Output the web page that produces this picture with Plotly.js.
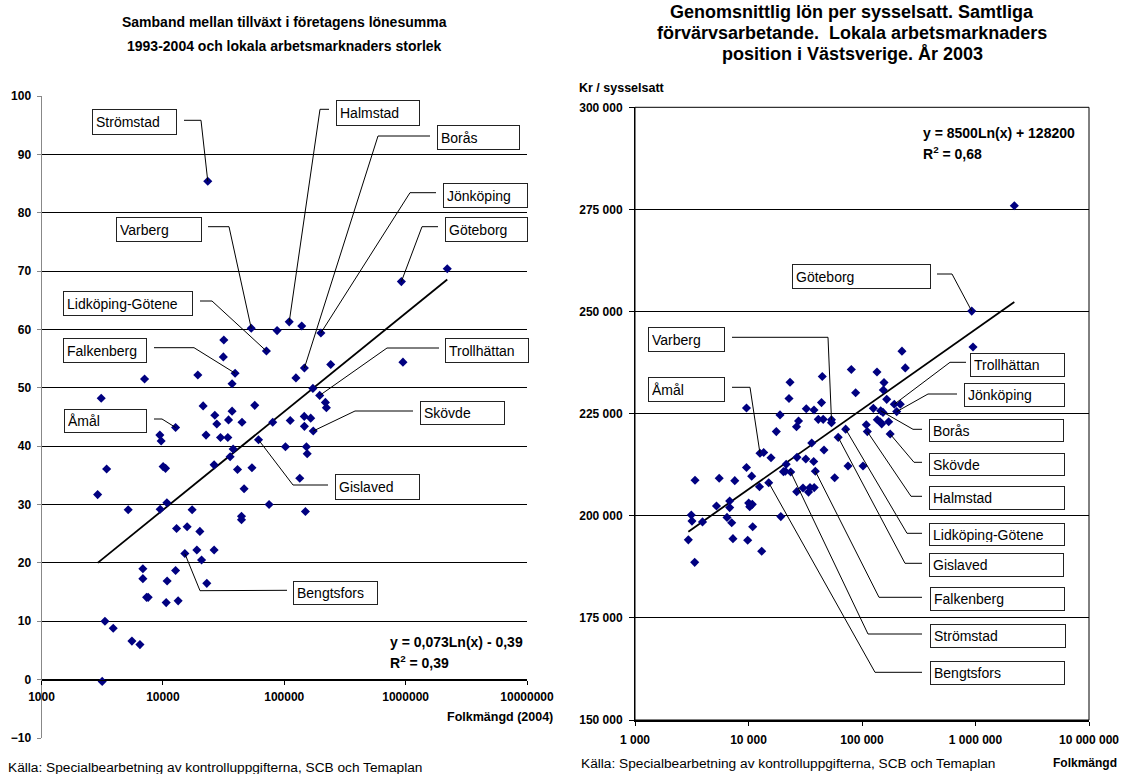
<!DOCTYPE html>
<html><head><meta charset="utf-8">
<script src="https://cdn.plot.ly/plotly-3.0.1.min.js"></script>
<style>html,body{margin:0;padding:0;background:#fff}#chart{width:1123px;height:774px}</style>
</head><body><div id="chart"></div>
<script>
const W = 1123, H = 774;

// ---------- Left chart: growth in payroll 1993-2004 vs population (2004) ----------
const leftPop = [23440, 2203000, 922500, 109900, 139300, 200400, 53460, 87300, 31770, 71300,
  31480, 241500, 950600, 146600, 39360, 19410, 7065, 124800, 37170, 172200,
  3105, 195900, 218300, 222400, 21460, 57150, 37170, 26790, 34750, 27810,
  12730, 44870, 80370, 112000, 146200, 165200, 146600, 173300, 9443, 9680,
  22680, 29850, 34280, 61370, 37930, 35810, 102300, 152300, 154600, 26430,
  41210, 54200, 134200, 10050, 10520, 3441, 46680, 2901, 5180, 9505,
  10790, 17420, 149400, 44430, 44430, 74990, 12970, 15850, 20170, 26430,
  19050, 15170, 20830, 6842, 6842, 23010, 10840, 12730, 7345, 7568,
  10650, 13360, 3333, 3899, 5559, 6471, 3162];
const leftGrowth = [85.4, 70.4, 68.2, 61.3, 60.6, 59.4, 60.2, 59.8, 58.2, 56.3,
  55.3, 54.0, 54.4, 53.4, 52.5, 52.2, 51.5, 51.7, 50.7, 49.9,
  48.2, 48.7, 47.5, 46.6, 46.9, 47.0, 46.0, 45.3, 44.5, 43.8,
  43.2, 44.1, 44.1, 44.4, 45.1, 44.8, 43.4, 42.6, 41.9, 40.9,
  41.9, 41.5, 41.5, 41.1, 39.5, 38.2, 39.9, 39.9, 38.7, 36.8,
  36.0, 36.3, 34.5, 36.5, 36.2, 36.1, 32.7, 31.7, 29.1, 29.2,
  30.3, 29.1, 28.8, 28.0, 27.4, 30.0, 25.9, 26.2, 25.4, 22.2,
  22.2, 21.6, 20.5, 19.0, 17.3, 16.5, 16.9, 18.7, 14.1, 14.1,
  13.2, 13.5, 10.0, 8.8, 6.6, 6.0, -0.3];
const leftNames = ['Strömstad', '', 'Göteborg', 'Halmstad', '', 'Jönköping', 'Varberg', '', '', 'Lidköping-Götene',
  '', '', '', 'Borås', 'Falkenberg', '', '', '', '', '',
  '', 'Trollhättan', '', '', '', '', '', '', '', '',
  'Åmål', '', '', '', '', '', '', 'Skövde', '', '',
  '', '', '', 'Gislaved', '', '', '', '', '', '',
  '', '', '', '', '', '', '', '', '', '',
  '', '', '', '', '', '', '', '', '', '',
  '', 'Bengtsfors', '', '', '', '', '', '', '', '',
  '', '', '', '', '', '', ''];

// ---------- Right chart: average wage per employed vs population ----------
const rightPop = [2198000, 926800, 950600, 225000, 240600, 80500, 135500, 156300, 154100, 87900,
  165100, 192600, 217500, 125900, 146100, 153100, 202200, 136400, 144200, 149200,
  171800, 109100, 111400, 177100, 71800, 75300, 102100, 44670, 23220, 22740,
  43970, 9600, 32300, 37760, 18950, 27590, 26480, 41210, 45510, 53830,
  53830, 17580, 61700, 36060, 12620, 13610, 15780, 26740, 31980, 46240,
  21490, 37530, 9600, 10670, 20330, 21100, 23540, 38800, 57440, 5520,
  3380, 7570, 15070, 12500, 26590, 30200, 33790, 34830, 37930, 5224,
  6826, 6826, 10040, 10460, 10800, 10250, 3133, 3177, 3934, 6468,
  7112, 19260, 10890, 7295, 9840, 2951, 13070, 3357];
const rightWage = [275900, 250100, 241300, 240300, 236200, 235800, 235200, 232600, 230800, 230100,
  228500, 227300, 227300, 226300, 225700, 225300, 225500, 223500, 223000, 222500,
  223000, 222300, 220600, 220000, 221200, 212200, 212200, 234100, 232700, 228700,
  227700, 226400, 226200, 225900, 224700, 223200, 221800, 223600, 223600, 223500,
  222800, 220600, 219200, 217800, 215300, 215500, 214200, 214300, 213900, 216100,
  212600, 213300, 211800, 209700, 210800, 210900, 210700, 210900, 209300, 209200,
  208700, 208600, 208100, 207100, 205900, 206800, 205800, 206900, 206900, 202400,
  203600, 202000, 203100, 202600, 202800, 202200, 200200, 198700, 198500, 199600,
  198300, 199800, 197300, 194400, 194000, 194100, 191300, 188600];
const rightNames = ['', 'Göteborg', '', '', '', '', '', '', '', '',
  '', 'Trollhättan', '', '', 'Borås', '', 'Jönköping', '', '', '',
  '', '', 'Halmstad', 'Skövde', 'Lidköping-Götene', '', '', '', '', '',
  '', '', '', '', '', '', '', '', '', 'Varberg',
  '', '', 'Gislaved', '', 'Åmål', '', '', '', '', '',
  '', '', '', '', '', '', 'Strömstad', 'Falkenberg', '', '',
  '', '', 'Bengtsfors', '', '', '', '', '', '', '',
  '', '', '', '', '', '', '', '', '', '',
  '', '', '', '', '', '', '', ''];

// ---------- Ticks ----------
const xTickVals = [1000, 10000, 100000, 1000000, 10000000];
const leftXTickText = ['1000', '10000', '100000', '1000000', '10000000'];
const rightXTickText = ['1 000', '10 000', '100 000', '1 000 000', '10 000 000'];
const leftYTickVals = [-10, 0, 10, 20, 30, 40, 50, 60, 70, 80, 90, 100];
const rightYTickVals = [150000, 175000, 200000, 225000, 250000, 275000, 300000];
const rightYTickText = ['150 000', '175 000', '200 000', '225 000', '250 000', '275 000', '300 000'];

// Trend coefficients (log fits)
const leftTrendA = 0.0732, leftTrendB = -0.3835;   // share = a ln(x) + b, shown in %
const rightTrendA = 8500, rightTrendB = 128200;

// ---------- Label box layout (pixel positions) ----------
const leftLabelLayout = {
  'Strömstad': {box: [92, 109, 177, 135], elbow: [[184, 120.3], [201, 120.3]]},
  'Varberg': {box: [116, 217, 202, 242], elbow: [[208, 226.7], [229, 226.7]]},
  'Lidköping-Götene': {box: [63, 291, 193, 316], elbow: [[200, 301], [212, 301]]},
  'Falkenberg': {box: [63, 338, 147, 363], elbow: [[154, 347.7], [194, 347.7]]},
  'Åmål': {box: [64, 409, 147, 433], elbow: [[154, 419], [162, 419]]},
  'Halmstad': {box: [336, 100, 420, 126], elbow: [[329, 109.3], [320, 109.3]]},
  'Borås': {box: [437, 125, 520, 150], elbow: [[430, 136], [378, 136]]},
  'Jönköping': {box: [443, 183, 528, 208], elbow: [[436, 192.7], [410, 192.7]]},
  'Göteborg': {box: [445, 217, 528, 242], elbow: [[438, 226.7], [422, 226.7]]},
  'Trollhättan': {box: [445, 338, 529, 363], elbow: [[439, 348], [387, 348]]},
  'Skövde': {box: [420, 401, 505, 425], elbow: [[413, 411], [355, 411]]},
  'Gislaved': {box: [335, 474, 420, 500], elbow: [[328, 485], [293, 485]]},
  'Bengtsfors': {box: [293, 581, 378, 605], elbow: [[287, 590.3], [200, 590.7]]}
};
const rightLabelLayout = {
  'Göteborg': {box: [792, 264, 931, 289], elbow: [[937, 274], [952, 274]]},
  'Varberg': {box: [648, 327, 725, 352], elbow: [[732, 337.3], [828, 337.3]]},
  'Åmål': {box: [648, 377, 725, 402], elbow: [[732, 387.3], [750, 387.3]]},
  'Trollhättan': {box: [970, 353, 1065, 377], elbow: [[966, 362.3], [950, 362.3]]},
  'Jönköping': {box: [964, 383, 1065, 407], elbow: [[957, 394], [928, 394]]},
  'Borås': {box: [929, 419, 1064, 442], elbow: [[922, 429.3], [913, 429.3]]},
  'Skövde': {box: [929, 453, 1065, 476], elbow: [[922, 462.3], [914, 462.3]]},
  'Halmstad': {box: [929, 486, 1065, 510], elbow: [[922, 496.3], [911, 496.3]]},
  'Lidköping-Götene': {box: [929, 523, 1065, 546], elbow: [[922, 533.3], [907, 533.3]]},
  'Gislaved': {box: [929, 553, 1064, 577], elbow: [[922, 563.3], [905, 563.3]]},
  'Falkenberg': {box: [930, 587, 1065, 611], elbow: [[922, 597.3], [879, 597.3]]},
  'Strömstad': {box: [930, 624, 1066, 648], elbow: [[922, 634], [868, 634]]},
  'Bengtsfors': {box: [930, 661, 1065, 685], elbow: [[922, 672.3], [875, 672.3]]}
};

const FONT = 'Liberation Sans, Arial, sans-serif';
const px2x = v => v / W, px2y = v => 1 - v / H;

// trend lines
const lMin = Math.min(...leftPop), lMax = Math.max(...leftPop);
const rMin = Math.min(...rightPop), rMax = Math.max(...rightPop);
const leftTrendX = [lMin, lMax];
const leftTrendY = leftTrendX.map(x => 100 * (leftTrendA * Math.log(x) + leftTrendB));
const rightTrendX = [rMin, rMax];
const rightTrendY = rightTrendX.map(x => rightTrendA * Math.log(x) + rightTrendB);

const markerStyle = {symbol: 'diamond', size: 7, color: '#000080', line: {width: 0}};
const data = [
  {x: leftTrendX, y: leftTrendY, xaxis: 'x', yaxis: 'y', mode: 'lines', line: {color: '#000', width: 1.8}, hoverinfo: 'skip'},
  {x: leftPop, y: leftGrowth, xaxis: 'x', yaxis: 'y', mode: 'markers', marker: markerStyle},
  {x: rightTrendX, y: rightTrendY, xaxis: 'x2', yaxis: 'y2', mode: 'lines', line: {color: '#000', width: 1.8}, hoverinfo: 'skip'},
  {x: rightPop, y: rightWage, xaxis: 'x2', yaxis: 'y2', mode: 'markers', marker: markerStyle}
];

const tickFont = {family: FONT, size: 12, color: '#000', weight: 'bold'};
const layout = {
  width: W, height: H, margin: {l: 0, r: 0, t: 0, b: 0},
  paper_bgcolor: '#fff', plot_bgcolor: 'rgba(0,0,0,0)', showlegend: false,
  font: {family: FONT, color: '#000'},
  xaxis: {type: 'log', domain: [41.5 / W, 527 / W], range: [3, 7], anchor: 'free', position: (H - 680) / H,
    tickvals: xTickVals, ticktext: leftXTickText, tickfont: tickFont, showgrid: false, zeroline: false,
    showline: true, linecolor: '#000', linewidth: 1, ticks: 'outside', ticklen: 4, tickcolor: '#000', ticklabelstandoff: 2},
  yaxis: {domain: [(H - 738) / H, (H - 96) / H], range: [-10, 100], anchor: 'x',
    tickvals: leftYTickVals, tickfont: tickFont, showgrid: true, gridcolor: '#000', gridwidth: 1, zeroline: false,
    showline: true, linecolor: '#888', linewidth: 1, ticks: 'outside', ticklen: 4, tickcolor: '#888', ticklabelstandoff: 3},
  xaxis2: {type: 'log', domain: [635 / W, 1089 / W], range: [3, 7], anchor: 'y2',
    tickvals: xTickVals, ticktext: rightXTickText, tickfont: tickFont, showgrid: false, zeroline: false,
    showline: true, linecolor: '#000', linewidth: 2, ticks: 'outside', ticklen: 4, tickcolor: '#000', ticklabelstandoff: 4},
  yaxis2: {domain: [(H - 720) / H, (H - 107.3) / H], range: [150000, 300000], anchor: 'x2',
    tickvals: rightYTickVals, ticktext: rightYTickText, tickfont: tickFont, showgrid: true, gridcolor: '#000', gridwidth: 1,
    zeroline: false, showline: true, linecolor: '#000', linewidth: 1, ticks: 'outside', ticklen: 5, tickcolor: '#000', ticklabelstandoff: 4},
  shapes: [
    {type: 'rect', xref: 'x2 domain', yref: 'y2 domain', x0: 0, x1: 1, y0: 0, y1: 1, line: {color: '#000', width: 1}, layer: 'below'}
  ],
  annotations: []
};

function txt(text, x, y, opts) {
  return Object.assign({text: text, xref: 'paper', yref: 'paper', x: px2x(x), y: px2y(y), showarrow: false,
    xanchor: 'center', yanchor: 'middle', font: {family: FONT, size: 13.7, color: '#000'}}, opts || {});
}
const boldF = s => ({family: FONT, size: s, color: '#000', weight: 'bold'});
const A = layout.annotations;
A.push(txt('Samband mellan tillväxt i företagens lönesumma', 284, 22, {font: boldF(14)}));
A.push(txt('1993-2004 och lokala arbetsmarknaders storlek', 284, 46, {font: boldF(14)}));
A.push(txt('Genomsnittlig lön per sysselsatt. Samtliga', 852, 12, {font: boldF(18)}));
A.push(txt('förvärvsarbetande.  Lokala arbetsmarknaders', 852, 33, {font: boldF(18)}));
A.push(txt('position i Västsverige. År 2003', 852, 54, {font: boldF(18)}));
A.push(txt('Kr / sysselsatt', 577, 88, {xanchor: 'left', font: boldF(12.5)}));
A.push(txt('Folkmängd (2004)', 555, 717, {xanchor: 'right', font: boldF(12.5)}));
A.push(txt('Folkmängd', 1119, 763, {xanchor: 'right', font: boldF(12)}));
A.push(txt('Källa: Specialbearbetning av kontrolluppgifterna, SCB och Temaplan', 6, 767, {xanchor: 'left'}));
A.push(txt('Källa: Specialbearbetning av kontrolluppgifterna, SCB och Temaplan', 579, 763, {xanchor: 'left'}));
A.push(txt('y = 0,073Ln(x) - 0,39', 388, 642, {xanchor: 'left', font: boldF(14)}));
A.push(txt('R<sup>2</sup> = 0,39', 388, 662, {xanchor: 'left', font: boldF(14)}));
A.push(txt('y = 8500Ln(x) + 128200', 921, 133, {xanchor: 'left', font: boldF(14)}));
A.push(txt('R<sup>2</sup> = 0,68', 921, 153, {xanchor: 'left', font: boldF(14)}));

function addBoxes(conf) {
  Object.keys(conf).forEach(name => {
    const b = conf[name].box, bp = 3;
    A.push({text: name, xref: 'paper', yref: 'paper', x: px2x(b[0]), y: px2y(b[1]), xanchor: 'left', yanchor: 'top',
      showarrow: false, align: 'left', valign: 'middle', width: (b[2] - b[0]) - 2 * (1 + bp), height: (b[3] - b[1]) - 2 * (1 + bp),
      borderpad: bp, borderwidth: 1, bordercolor: '#222', bgcolor: '#fff', font: {family: FONT, size: 14, color: '#000'}});
  });
}
addBoxes(leftLabelLayout);
addBoxes(rightLabelLayout);

const gd = document.getElementById('chart');
Plotly.newPlot(gd, data, layout, {staticPlot: true}).then(() => {
  const fl = gd._fullLayout;
  const shapes = layout.shapes.slice();
  function leaders(names, xs, ys, conf, xa, ya) {
    names.forEach((n, i) => {
      if (!n || !conf[n]) return;
      const px = xa._offset + xa.d2p(xs[i]);
      const py = ya._offset + ya.d2p(ys[i]);
      const pts = conf[n].elbow.concat([[px, py]]);
      const path = 'M ' + pts.map(p => px2x(p[0]) + ',' + px2y(p[1])).join(' L ');
      shapes.push({type: 'path', xref: 'paper', yref: 'paper', path: path, line: {color: '#000', width: 1}});
    });
  }
  leaders(leftNames, leftPop, leftGrowth, leftLabelLayout, fl.xaxis, fl.yaxis);
  leaders(rightNames, rightPop, rightWage, rightLabelLayout, fl.xaxis2, fl.yaxis2);
  return Plotly.relayout(gd, {shapes: shapes});
});
</script>
</body></html>
